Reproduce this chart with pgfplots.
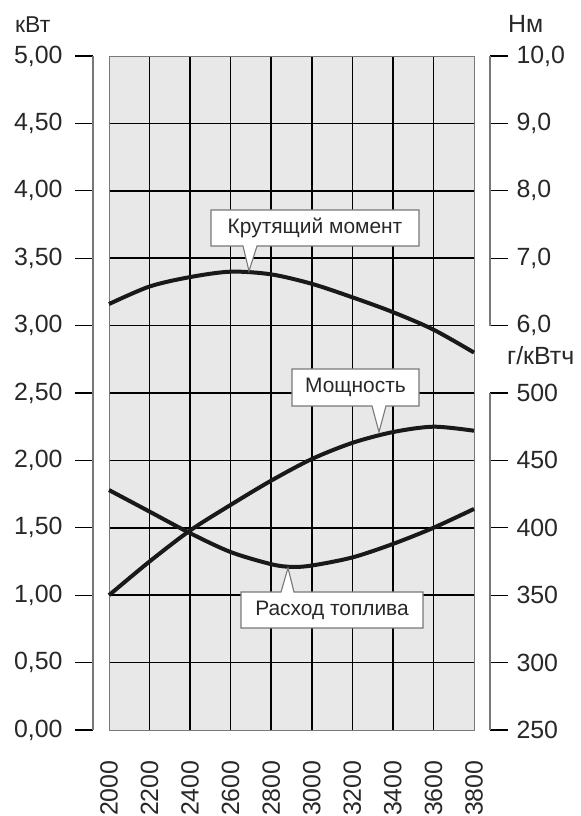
\documentclass[border=0pt]{standalone}
\usepackage{pgfplots}
\pgfplotsset{compat=1.18}
\usepackage{fontspec}
\setmainfont{Liberation Sans}
\definecolor{bg}{RGB}{232,232,232}
\definecolor{txt}{RGB}{40,40,40}
\definecolor{frame}{RGB}{120,120,120}
\definecolor{curve}{RGB}{25,25,25}
\pgfplotsset{
  base/.style={
    at={(93bp,86bp)}, anchor=south west,
    scale only axis, width=397bp, height=674bp,
    xmin=1921, xmax=3879,
    axis line style={draw=none},
    tick align=outside,
    major tick length=18bp,
    every tick/.style={black, line width=1.3bp},
    tick label style={font=\fontsize{25}{29}\selectfont, text=txt},
    /pgf/number format/assume math mode=true,
    clip=false,
  },
  crv/.style={smooth, line width=4bp, curve, mark=none},
}
\begin{document}
\begin{tikzpicture}
\useasboundingbox (0,0) rectangle (581bp,816bp);
% --- kW axis (left) with background, grid and power curve
\begin{axis}[base,
  ymin=0, ymax=5,
  ytick={0,0.5,1,1.5,2,2.5,3,3.5,4,4.5,5},
  ytick pos=left, yticklabel pos=left,
  yticklabel shift=9bp,
  yticklabel style={/pgf/number format/.cd, fixed, fixed zerofill, precision=2, use comma},
  xtick={2000,2200,2400,2600,2800,3000,3200,3400,3600,3800},
  xtick pos=bottom, xticklabel pos=bottom,
  xticklabel shift=9bp,
  x tick style={draw=none},
  xticklabel style={rotate=90, anchor=east, /pgf/number format/1000 sep={}},
]
\fill[bg] (axis cs:2000,0) rectangle (axis cs:3800,5);
\draw[black, line width=1.5bp]
  (axis cs:2200,0) -- (axis cs:2200,5)
  (axis cs:2400,0) -- (axis cs:2400,5)
  (axis cs:2600,0) -- (axis cs:2600,5)
  (axis cs:2800,0) -- (axis cs:2800,5)
  (axis cs:3000,0) -- (axis cs:3000,5)
  (axis cs:3200,0) -- (axis cs:3200,5)
  (axis cs:3400,0) -- (axis cs:3400,5)
  (axis cs:3600,0) -- (axis cs:3600,5)
  (axis cs:2000,0.5) -- (axis cs:3800,0.5)
  (axis cs:2000,1) -- (axis cs:3800,1)
  (axis cs:2000,1.5) -- (axis cs:3800,1.5)
  (axis cs:2000,2) -- (axis cs:3800,2)
  (axis cs:2000,2.5) -- (axis cs:3800,2.5)
  (axis cs:2000,3) -- (axis cs:3800,3)
  (axis cs:2000,3.5) -- (axis cs:3800,3.5)
  (axis cs:2000,4) -- (axis cs:3800,4)
  (axis cs:2000,4.5) -- (axis cs:3800,4.5);
\draw[frame, line width=0.9bp] (axis cs:2000,0) rectangle (axis cs:3800,5);
\draw[frame, line width=1.1bp] (rel axis cs:0,0) -- (rel axis cs:0,1);
% power, kW
\addplot[crv] coordinates {
  (2000,1.00) (2200,1.25) (2400,1.48) (2600,1.67) (2800,1.85)
  (3000,2.01) (3200,2.13) (3400,2.21) (3600,2.25) (3800,2.22)};
\end{axis}
% --- torque axis (right, N m)
\begin{axis}[base,
  ymin=0, ymax=10,
  ytick={6,7,8,9,10},
  ytick pos=right, yticklabel pos=right,
  yticklabel shift=5bp,
  yticklabel style={/pgf/number format/.cd, fixed, fixed zerofill, precision=1, use comma},
  xtick=\empty,
]
\draw[frame, line width=1.1bp] (rel axis cs:1,0.6) -- (rel axis cs:1,1);
\addplot[crv] coordinates {
  (2000,6.32) (2200,6.58) (2400,6.72) (2600,6.80) (2800,6.76)
  (3000,6.62) (3200,6.42) (3400,6.20) (3600,5.94) (3800,5.60)};
\end{axis}
% --- fuel consumption axis (right, g/kWh)
\begin{axis}[base,
  ymin=250, ymax=750,
  ytick={250,300,350,400,450,500},
  ytick pos=right, yticklabel pos=right,
  yticklabel shift=5bp,
  xtick=\empty,
]
\draw[frame, line width=1.1bp] (rel axis cs:1,0) -- (rel axis cs:1,0.5);
\addplot[crv] coordinates {
  (2000,428) (2200,412) (2400,396) (2600,382) (2800,373) (2900,371)
  (3000,372) (3200,378) (3400,388) (3600,400) (3800,414)};
\end{axis}
% unit labels
\node[anchor=base west, inner sep=0pt, text=txt, font=\fontsize{23}{27}\selectfont] at (15bp,783bp) {кВт};
\node[anchor=base west, inner sep=0pt, text=txt, font=\fontsize{25}{29}\selectfont] at (508bp,783bp) {Нм};
\node[anchor=base west, inner sep=0pt, text=txt, font=\fontsize{25}{29}\selectfont] at (507bp,451bp) {г/кВтч};
% callouts
\begin{scope}[x=1bp, y=1bp]
\filldraw[fill=white, draw=frame, line width=1.1bp, line join=miter]
  (211,606) -- (419,606) -- (419,570) -- (257,570) -- (249,545) -- (243,570) -- (211,570) -- cycle;
\node[text=txt, font=\fontsize{21}{25}\selectfont] at (315,588) {Крутящий момент};
\filldraw[fill=white, draw=frame, line width=1.1bp, line join=miter]
  (292,447) -- (419,447) -- (419,410) -- (386,410) -- (379,384) -- (372,410) -- (292,410) -- cycle;
\node[text=txt, font=\fontsize{21}{25}\selectfont] at (355.5,428.5) {Мощность};
\filldraw[fill=white, draw=frame, line width=1.1bp, line join=miter]
  (241,188) -- (423,188) -- (423,224) -- (294,224) -- (288,248) -- (281,224) -- (241,224) -- cycle;
\node[text=txt, font=\fontsize{21}{25}\selectfont] at (332,206) {Расход топлива};
\end{scope}
\end{tikzpicture}
\end{document}
